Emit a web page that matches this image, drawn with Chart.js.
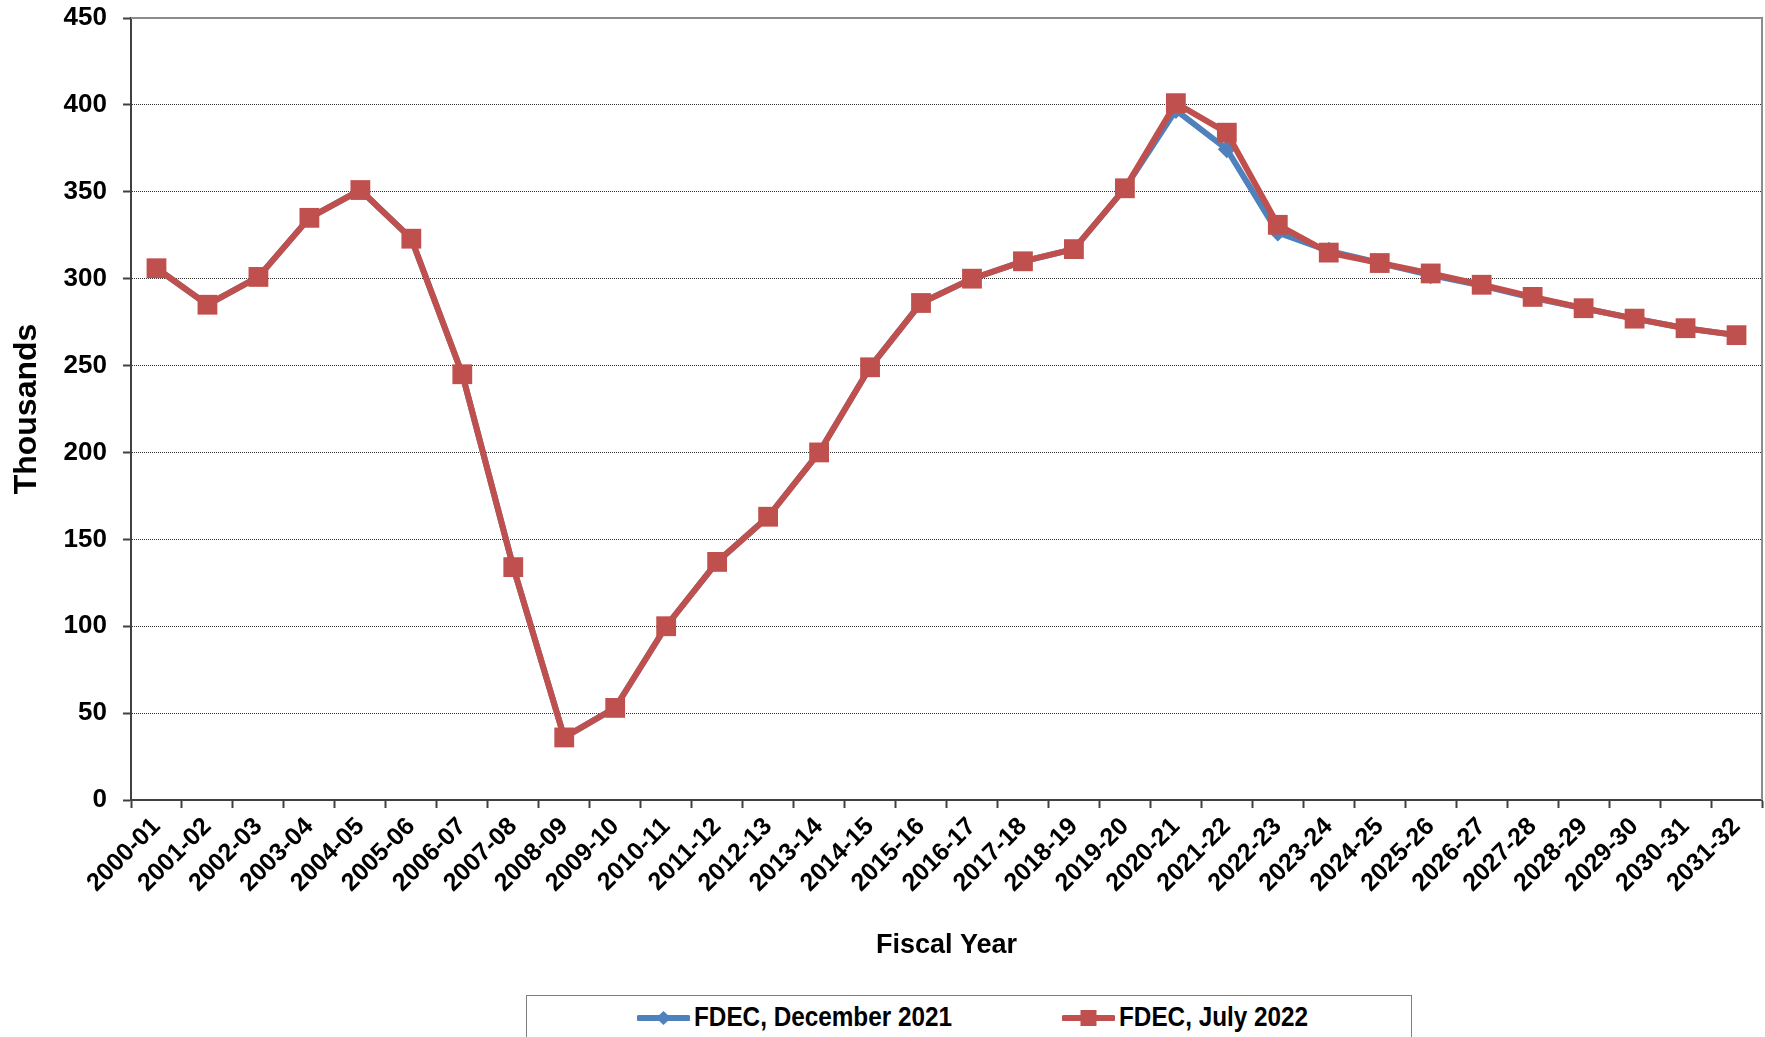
<!DOCTYPE html>
<html>
<head>
<meta charset="utf-8">
<script src="https://cdn.jsdelivr.net/npm/chart.js@4"></script>
<style>
html,body{margin:0;padding:0;background:#fff;overflow:hidden;}
#wrap{position:relative;width:1765px;height:1037px;}
#legend{position:absolute;left:526px;top:995px;width:886px;height:70px;border:1px solid #7f7f7f;box-sizing:border-box;background:#fff;
font-family:"Liberation Sans",Arial,sans-serif;font-weight:bold;font-size:27px;color:#000;}
.item{position:absolute;top:6px;display:flex;align-items:center;white-space:nowrap;}
.item svg{margin-right:4px;}
.item span{display:inline-block;transform:scaleX(0.9);transform-origin:left center;}
</style>
</head>
<body>
<div id="wrap">
<canvas id="c" width="1765" height="1037" style="width:1765px;height:1037px"></canvas>
<div id="legend"></div>
</div>
<script>
const categories = ["2000-01","2001-02","2002-03","2003-04","2004-05","2005-06","2006-07","2007-08","2008-09","2009-10","2010-11","2011-12","2012-13","2013-14","2014-15","2015-16","2016-17","2017-18","2018-19","2019-20","2020-21","2021-22","2022-23","2023-24","2024-25","2025-26","2026-27","2027-28","2028-29","2029-30","2030-31","2031-32"];
const seriesNames = ["FDEC, December 2021","FDEC, July 2022"];
const december2021 = [306,285,301,335,351,323,245,134,36,53,100,137,163,200,249,286,300,310,317,352,397,374.5,326.5,316,309,302,296,289,283,277,271.5,267.5];
const july2022 = [306,285,301,335,351,323,245,134,36,53,100,137,163,200,249,286,300,310,317,352,401,384,331,315,309,303,296.5,289.5,283,277,271.5,267.5];
const yTicks = [0,50,100,150,200,250,300,350,400,450];
const colors = ["#4F81BD","#C0504D"];

const FONT = "'Liberation Sans', Arial, sans-serif";

// large markers should not shrink the plot area
Chart.LineController.prototype.getMaxOverflow = function () { return 0; };

const frame = {
  id: 'frame',
  beforeDatasetsDraw(chart) {
    const {ctx, chartArea: a} = chart;
    ctx.save();
    ctx.strokeStyle = '#8c8c8c';
    ctx.lineWidth = 2;
    ctx.beginPath();
    ctx.moveTo(a.left, a.top);
    ctx.lineTo(a.right, a.top);
    ctx.lineTo(a.right, a.bottom);
    ctx.stroke();
    ctx.restore();
  }
};

new Chart(document.getElementById('c'), {
  type: 'line',
  data: {
    labels: categories,
    datasets: [
      {label: seriesNames[0], data: december2021, borderColor: colors[0], backgroundColor: colors[0],
       borderWidth: 6, pointStyle: 'rectRot', pointRadius: 9, pointBorderWidth: 0, order: 1, tension: 0, clip: false},
      {label: seriesNames[1], data: july2022, borderColor: colors[1], backgroundColor: colors[1],
       borderWidth: 6, pointStyle: 'rect', pointRadius: 14, pointBorderWidth: 0, order: 0, tension: 0, clip: false}
    ]
  },
  options: {
    responsive: false,
    devicePixelRatio: 1,
    animation: false,
    layout: {padding: {top: 18, right: 3, bottom: 75, left: 0}},
    plugins: {legend: {display: false}, tooltip: {enabled: false}},
    scales: {
      x: {
        offset: true,
        grid: {offset: true, drawOnChartArea: false, drawTicks: true, tickLength: 8, tickColor: '#404040', tickWidth: 2},
        border: {display: true, color: '#404040', width: 2},
        ticks: {autoSkip: false, maxRotation: 45, minRotation: 45, padding: 4, color: '#000',
                font: {family: FONT, size: 25, weight: 'bold'}},
        title: {display: true, text: 'Fiscal Year', color: '#000', padding: {top: 0, bottom: 0},
                font: {family: FONT, size: 27, weight: 'bold'}},
        afterFit(scale) { scale.height = 162; scale.paddingLeft = 0; scale.paddingRight = 0; scale.paddingTop = 0; scale.paddingBottom = 0; }
      },
      y: {
        min: 0, max: 450,
        afterBuildTicks(scale) { scale.ticks = yTicks.map(v => ({value: v})); },
        grid: {color: '#303030', lineWidth: 1, tickLength: 8, tickColor: '#404040', tickWidth: 2, tickBorderDash: []},
        border: {display: true, color: '#404040', width: 2, dash: [1, 1]},
        ticks: {padding: 16, color: '#000', font: {family: FONT, size: 26, weight: 'bold'}},
        title: {display: true, text: 'Thousands', color: '#000', padding: {top: 8, bottom: 0},
                font: {family: FONT, size: 32, weight: 'bold'}},
        afterFit(scale) { scale.width = 131; scale.paddingTop = 0; scale.paddingBottom = 0; scale.paddingLeft = 0; scale.paddingRight = 0; }
      }
    }
  },
  plugins: [frame]
});

// legend
const legend = document.getElementById('legend');
const lx = [110, 535];
seriesNames.forEach((name, i) => {
  const d = document.createElement('div');
  d.className = 'item';
  d.style.left = lx[i] + 'px';
  const marker = i === 0
    ? `<polygon points="26.5,4 34,11 26.5,18 19,11" fill="${colors[0]}"/>`
    : `<rect x="18.5" y="3" width="16" height="16" fill="${colors[1]}"/>`;
  d.innerHTML = `<svg width="53" height="22" viewBox="0 0 53 22"><line x1="2" y1="11" x2="51" y2="11" stroke="${colors[i]}" stroke-width="6" stroke-linecap="round"/>${marker}</svg><span>${name}</span>`;
  legend.appendChild(d);
});
</script>
</body>
</html>
